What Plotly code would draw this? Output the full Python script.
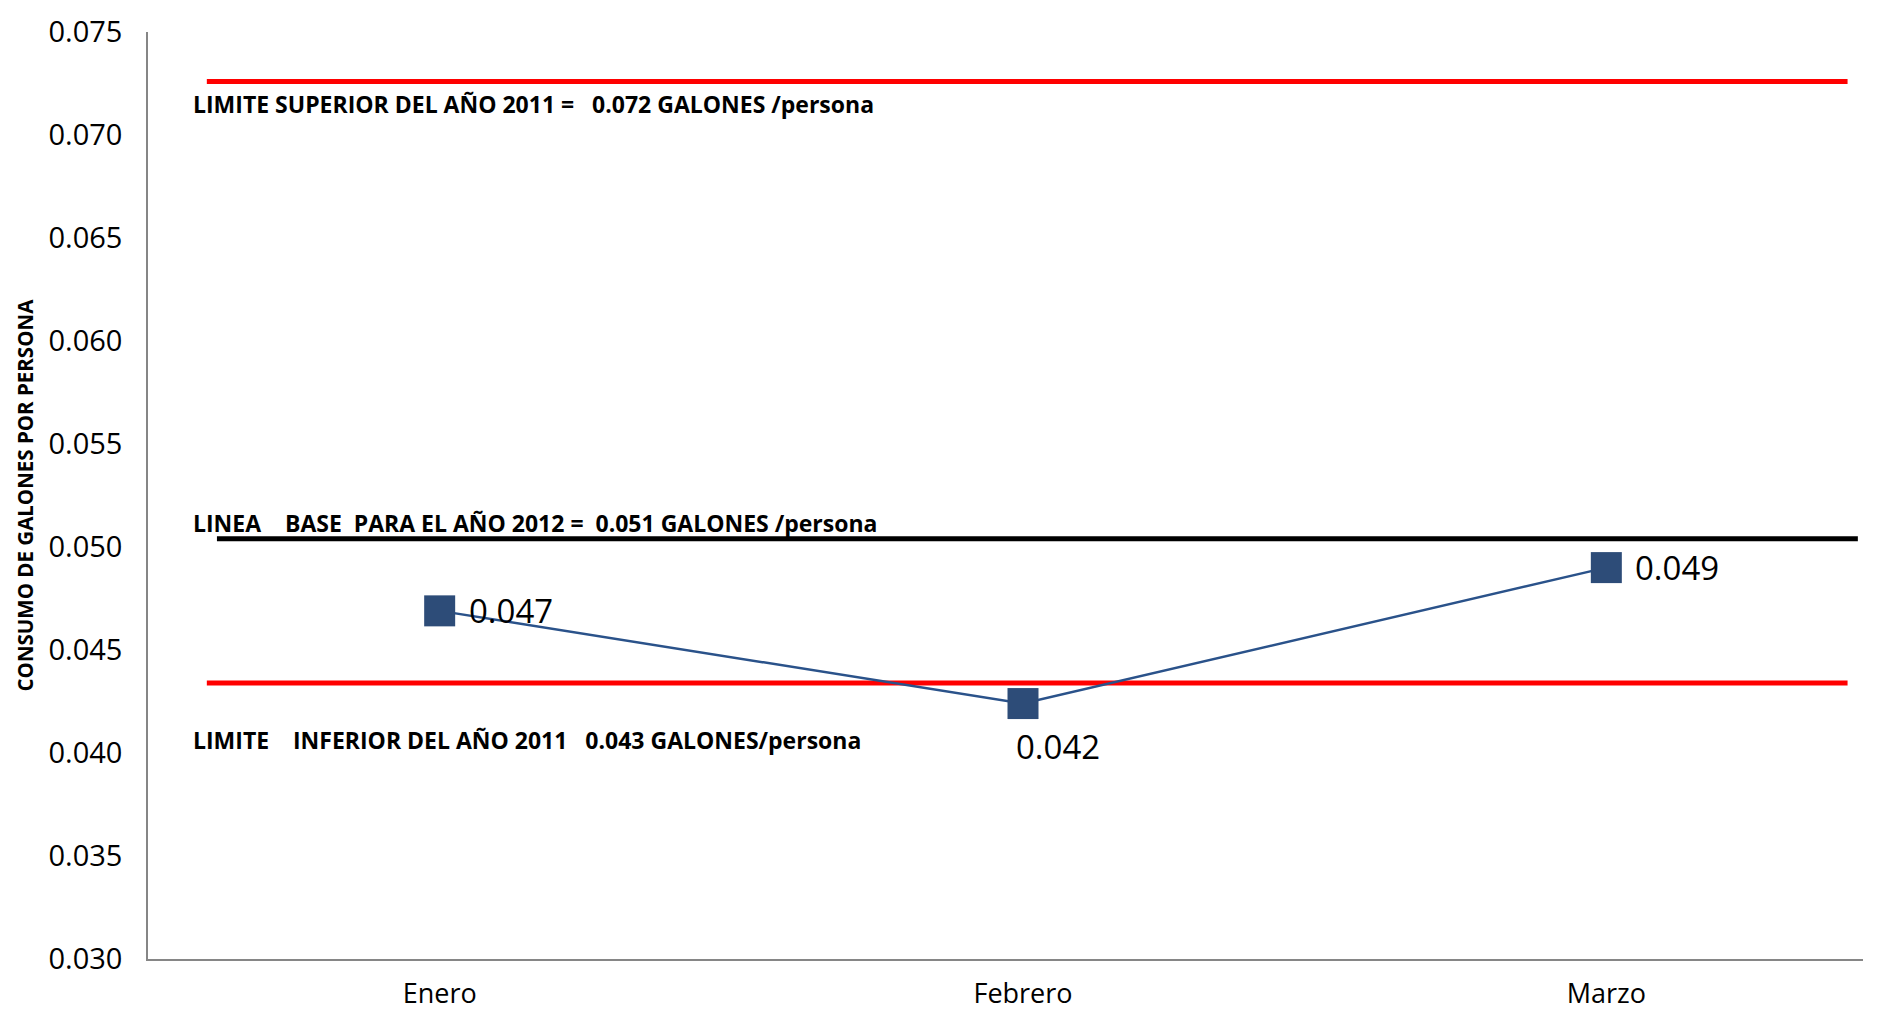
import plotly.graph_objects as go

# ---- data ----
months = ["Enero", "Febrero", "Marzo"]
consumo = [0.0469, 0.0424, 0.0490]

ref_names = ["sup", "base", "inf"]
ref_values = [0.0726, 0.0504, 0.0434]
ref_colors = ["#FF0000", "#000000", "#FF0000"]
ref_texts = [
    "LIMITE SUPERIOR DEL AÑO 2011 =\u00a0\u00a0 0.072 GALONES /persona",
    "LINEA\u00a0\u00a0\u00a0\u00a0BASE\u00a0 PARA EL AÑO 2012 =\u00a0 0.051 GALONES /persona",
    "LIMITE\u00a0\u00a0\u00a0\u00a0INFERIOR DEL AÑO 2011\u00a0\u00a0 0.043 GALONES/persona",
]
ref_text_values = [0.0715, 0.05117, 0.04065]

y_ticks = [0.030, 0.035, 0.040, 0.045, 0.050, 0.055, 0.060, 0.065, 0.070, 0.075]
y_title = "CONSUMO DE GALONES POR PERSONA"

FONT = "Open Sans"
W, H = 1887, 1002
ML, MR, MT, MB = 140, 32, 24, 51
PW = W - ML - MR

fig = go.Figure()

fig.add_trace(go.Scatter(
    x=months, y=consumo, mode="lines+markers",
    line=dict(color="#2A528A", width=2.5),
    marker=dict(symbol="square", size=31, color="#2D4C78",
                line=dict(width=0)),
    showlegend=False, hoverinfo="x+y",
))

# reference lines
line_x = {"sup": (0.0343, 0.991), "base": (0.0402, 0.997), "inf": (0.0343, 0.991)}
for name, val, col in zip(ref_names, ref_values, ref_colors):
    x0, x1 = line_x[name]
    fig.add_shape(type="line", xref="paper", yref="y", x0=x0, x1=x1,
                  y0=val, y1=val, line=dict(color=col, width=5), layer="below")

# reference texts
for txt, yv in zip(ref_texts, ref_text_values):
    fig.add_annotation(x=0.0248, xref="paper", y=yv, yref="y", text="<b>" + txt + "</b>",
                       showarrow=False, xanchor="left", yanchor="middle",
                       font=dict(family=FONT, size=23, color="#000000"))

# data labels
label_pos = [
    dict(xanchor="left", yanchor="middle", xshift=27, yshift=0),
    dict(xanchor="center", yanchor="middle", xshift=35, yshift=-43),
    dict(xanchor="left", yanchor="middle", xshift=27, yshift=0),
]
for m, v, p in zip(months, consumo, label_pos):
    fig.add_annotation(x=m, y=v, xref="x", yref="y", text=f"{v:.3f}",
                       showarrow=False, font=dict(family=FONT, size=33, color="#000000"),
                       **p)

# y axis title
fig.add_annotation(x=-(ML - 16) / PW, xref="paper", y=0.5, yref="paper",
                   text="<b>" + y_title + "</b>",
                   showarrow=False, textangle=-90, xanchor="center", yanchor="middle",
                   font=dict(family=FONT, size=20.5, color="#000000"))

fig.update_layout(
    width=W, height=H,
    margin=dict(l=ML, r=MR, t=MT, b=MB, autoexpand=False),
    paper_bgcolor="white", plot_bgcolor="white",
    font=dict(family=FONT, size=28, color="#000000"),
    xaxis=dict(type="category", categoryorder="array", categoryarray=months,
               range=[-0.5, 2.44], showline=True, linecolor="#868686", linewidth=1.5,
               showgrid=False, zeroline=False, ticks="", ticklabelstandoff=10,
               automargin=False, ticklabeloverflow="allow",
               tickfont=dict(family=FONT, size=27)),
    yaxis=dict(range=[0.030, 0.075], tickvals=y_ticks, tickformat=".3f",
               showline=True, linecolor="#868686", linewidth=1.5,
               showgrid=False, zeroline=False, ticks="", ticklabelstandoff=18,
               automargin=False, ticklabeloverflow="allow",
               tickfont=dict(family=FONT, size=29)),
)

fig.write_html("out.html")
